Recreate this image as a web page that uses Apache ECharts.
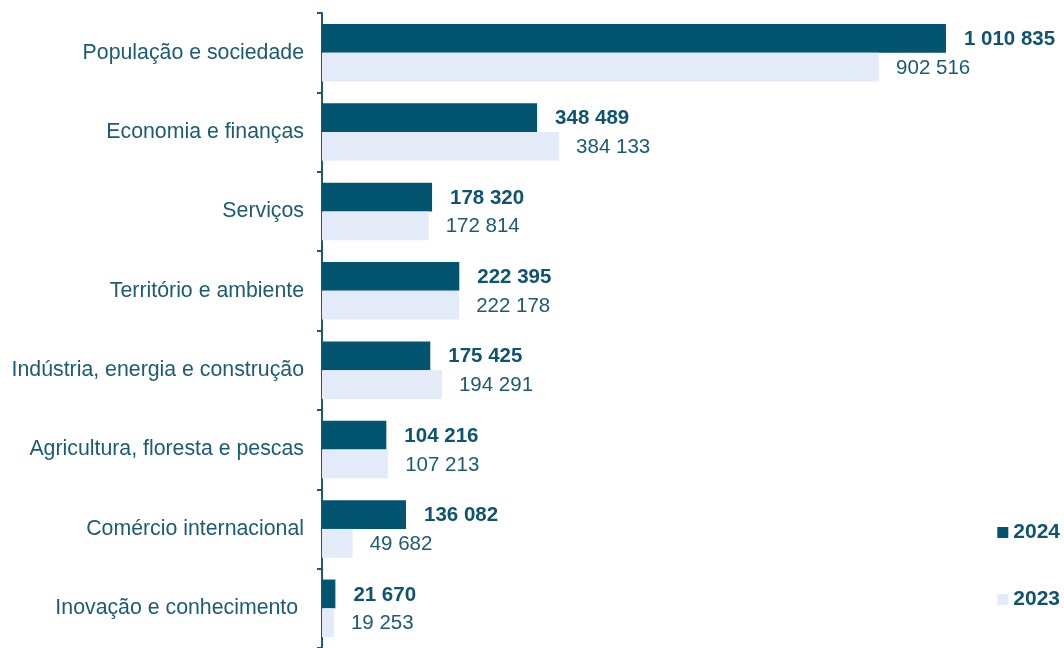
<!DOCTYPE html>
<html>
<head>
<meta charset="utf-8">
<script src="https://cdn.jsdelivr.net/npm/echarts@6/dist/echarts.min.js"></script>
<style>
  html, body { margin: 0; padding: 0; background: #fff; }
  #chart { width: 1064px; height: 648px; }
</style>
</head>
<body>
<div id="chart"></div>
<script>
const categories = [
  'População e sociedade',
  'Economia e finanças',
  'Serviços',
  'Território e ambiente',
  'Indústria, energia e construção',
  'Agricultura, floresta e pescas',
  'Comércio internacional',
  'Inovação e conhecimento '
]
const values2024 = [1010835, 348489, 178320, 222395, 175425, 104216, 136082, 21670]
const values2023 = [902516, 384133, 172814, 222178, 194291, 107213, 49682, 19253]

const darkColor = '#03546F'
const lightColor = '#E3EAF8'
const textColor = '#1B5B73'

// 1 010 835 style
function fmt(v) {
  return String(v).replace(/\B(?=(\d{3})+(?!\d))/g, ' ')
}

const chart = echarts.init(document.getElementById('chart'))
chart.setOption({
  animation: false,
  textStyle: { fontFamily: 'Liberation Sans, Arial, sans-serif' },
  grid: { left: 322, right: 63, top: 13, bottom: -5, containLabel: false },
  legend: {
    data: ['2024', '2023'],
    orient: 'vertical',
    right: -1,
    top: 517,
    itemWidth: 11,
    itemHeight: 11,
    itemGap: 46,
    icon: 'rect',
    textStyle: { color: '#0E5470', fontSize: 21, fontWeight: 'bold' }
  },
  xAxis: {
    type: 'value',
    min: 0,
    max: 1100000,
    show: false,
    splitLine: { show: false }
  },
  yAxis: {
    type: 'category',
    data: categories,
    inverse: true,
    axisLine: { show: true, lineStyle: { color: '#1B5B73', width: 2 } },
    axisTick: { show: true, length: 5, lineStyle: { color: '#1B5B73', width: 2 } },
    axisLabel: { color: textColor, fontSize: 21.3, margin: 18 }
  },
  series: [
    {
      name: '2024',
      type: 'bar',
      data: values2024,
      barGap: '0%',
      barCategoryGap: '27.5%',
      itemStyle: { color: darkColor },
      label: {
        show: true,
        position: 'right',
        distance: 18,
        offset: [0, 1],
        color: '#0E5470',
        fontSize: 20.5,
        fontWeight: 'bold',
        formatter: p => fmt(p.value)
      }
    },
    {
      name: '2023',
      type: 'bar',
      data: values2023,
      barGap: '0%',
      barCategoryGap: '27.5%',
      itemStyle: { color: lightColor },
      label: {
        show: true,
        position: 'right',
        distance: 17,
        offset: [0, 1],
        color: textColor,
        fontSize: 20.5,
        formatter: p => fmt(p.value)
      }
    }
  ]
})
</script>
</body>
</html>
